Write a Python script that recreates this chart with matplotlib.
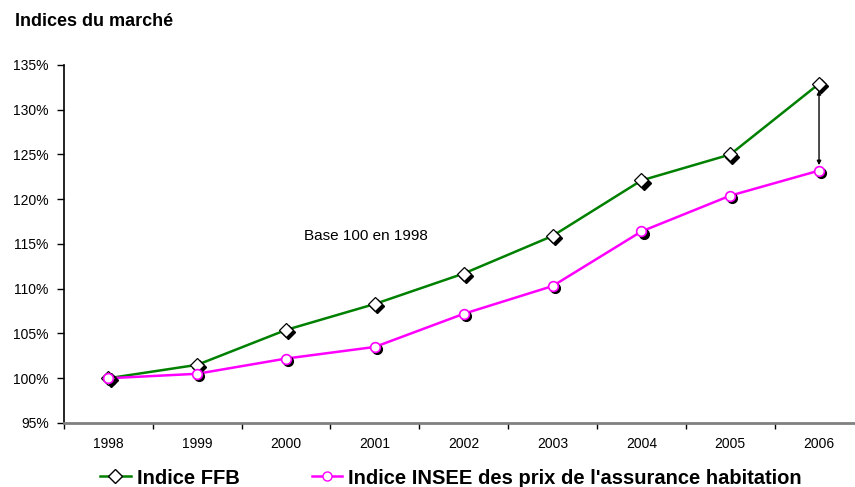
import numpy as np
import matplotlib.pyplot as plt
from matplotlib.transforms import offset_copy

years = ['1998', '1999', '2000', '2001', '2002', '2003', '2004', '2005', '2006']
ffb = [100.0, 101.5, 105.4, 108.3, 111.7, 115.9, 122.1, 125.0, 132.9]
insee = [100.0, 100.5, 102.2, 103.5, 107.2, 110.3, 116.4, 120.4, 123.2]

plt.rcParams['font.family'] = ['Liberation Sans', 'DejaVu Sans']

fig = plt.figure(figsize=(8.55, 4.87), dpi=100)
ax = fig.add_axes([64/855, 1-423/487, 1-64/855, (423-65)/487])

x = np.arange(len(years))
# ombre des marqueurs
sh = offset_copy(ax.transData, fig=fig, x=1.6, y=-1.6, units='points')

ax.plot(x, ffb, color='#008000', lw=1.8, zorder=2)
ax.plot(x, ffb, ls='none', marker='D', ms=7.5, mfc='black', mec='black', transform=sh, zorder=3)
ax.plot(x, ffb, ls='none', marker='D', ms=7.5, mfc='white', mec='black', mew=0.9, zorder=4)
ax.plot(x, insee, color='#ff00ff', lw=1.8, zorder=2)
ax.plot(x, insee, ls='none', marker='o', ms=7, mfc='black', mec='black', transform=sh, zorder=3)
ax.plot(x, insee, ls='none', marker='o', ms=7, mfc='white', mec='#ff00ff', mew=1.2, zorder=4)

# ecart 2006
ax.annotate('', xy=(x[-1], insee[-1] + 0.3), xytext=(x[-1], ffb[-1] - 0.4),
            arrowprops=dict(arrowstyle='<|-|>', color='black', lw=1, mutation_scale=6), zorder=5)

ax.text(2.9, 115.9, 'Base 100 en 1998', fontsize=11, ha='center', va='center')

ax.set_xlim(-0.5, 8.405)
ax.set_ylim(95, 135)
ax.set_yticks(np.arange(95, 136, 5))
ax.set_yticklabels(['%d%%' % v for v in range(95, 136, 5)], fontsize=10)
ax.set_xticks(x)
ax.set_xticklabels(years, fontsize=10)
ax.set_xticks(np.arange(-0.5, 8.5, 1), minor=True)
ax.tick_params(axis='x', which='major', length=0, pad=10)
ax.tick_params(axis='x', which='minor', length=4, width=1, direction='out')
ax.tick_params(axis='y', length=5, width=1, direction='out', pad=6)

for s in ['top', 'right']:
    ax.spines[s].set_visible(False)
ax.spines['left'].set_linewidth(1.2)
ax.spines['bottom'].set_color('#808080')
ax.spines['bottom'].set_linewidth(2)

fig.text(15/855, 1-22/487, 'Indices du march\u00e9', fontsize=13, fontweight='bold', va='center')

l1, = ax.plot([], [], color='#008000', lw=1.8, marker='D', ms=7, mfc='white', mec='black')
l2, = ax.plot([], [], color='#ff00ff', lw=1.8, marker='o', ms=6.5, mfc='white', mec='#ff00ff')
leg = fig.legend([l1, l2], ['Indice FFB', "Indice INSEE des prix de l'assurance habitation"],
                 loc='center', bbox_to_anchor=(451/855, 1-478/487), ncol=2, frameon=False,
                 prop={'size': 14.5, 'weight': 'bold'}, handlelength=1.5, handletextpad=0.3,
                 columnspacing=3.6)

fig.savefig('out.png', dpi=100)
